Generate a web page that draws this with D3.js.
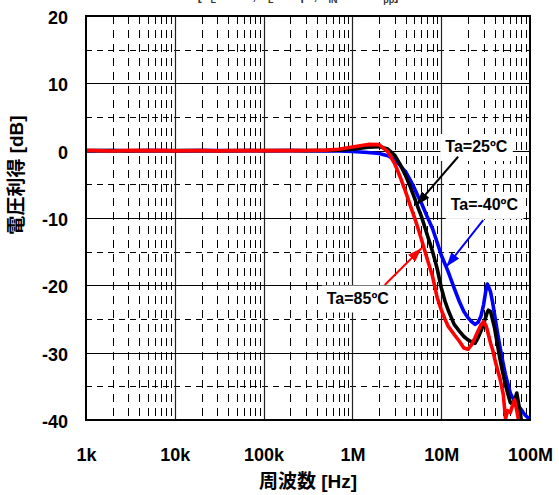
<!DOCTYPE html>
<html>
<head>
<meta charset="utf-8">
<script src="https://cdn.jsdelivr.net/npm/d3@7"></script>
<style>
  body { margin: 0; background: #fff; }
  svg { display: block; }
</style>
</head>
<body>
<svg id="chart" width="559" height="495"></svg>
<script>
// Frequency points (Hz) shared by the three temperature traces
const freqHz = [1e3, 2e3, 3e3, 5e3, 7e3, 1e4, 2e4, 3e4, 5e4, 7e4, 1e5, 2e5, 3e5, 5e5, 7e5,
  1e6, 1.5e6, 2e6, 2.5e6, 3e6, 3.5e6, 4e6, 4.5e6, 5e6, 5.5e6,
  6e6, 7e6, 8e6, 9e6, 10e6, 11e6, 12e6,
  14e6, 16e6, 18e6, 20e6, 22e6, 24e6, 26e6, 28e6, 30e6,
  32e6, 33e6, 34e6, 36e6, 38e6, 40e6,
  43e6, 46e6, 50e6, 53e6, 56e6, 60e6,
  63e6, 67e6, 71e6, 75e6, 80e6, 85e6, 90e6, 100e6];

// Voltage gain (dB) at Ta = -40 ºC
const gainM40 = [-0.03, 0.02, -0.02, 0, 0.02, -0.03, 0, 0.02, -0.02, 0, -0.02, 0, -0.02, -0.03, -0.06,
  -0.12, -0.28, -0.42, -0.75, -1.3, -2.3, -3.2, -4.4, -5.6, -6.8,
  -7.8, -9.9, -11.6, -13.6, -15.5, -16.8, -18.0,
  -20.4, -22.4, -23.9, -24.8, -25.4, -25.8, -25.5, -24.6, -22.9,
  -20.6, -19.8, -20.1, -21.0, -22.6, -24.4,
  -27.0, -29.2, -31.7, -33.3, -34.5, -36.0,
  -36.6, -37.0, -37.3, -38.0, -38.5, -39.0, -39.4, -39.9];

// Voltage gain (dB) at Ta = 25 ºC
const gain25 = [0, 0.03, -0.03, 0.02, -0.02, 0, 0.03, -0.02, 0, 0.02, 0, 0.02, 0, 0.03, 0.08,
  0.22, 0.5, 0.6, 0.25, -0.7, -2.2, -3.8, -5.4, -7.0, -8.5,
  -9.8, -12.6, -15.0, -17.5, -20.3, -22.3, -23.7,
  -25.8, -26.8, -27.6, -28.1, -28.4, -28.6, -27.8, -26.8, -25.7,
  -24.6, -24.0, -23.7, -23.9, -25.2, -26.4,
  -28.8, -31.0, -33.3, -34.8, -36.0, -37.4,
  -37.6, -37.0, -36.0, -37.8, -40.0, -41.5, -42.5, -43.5];

// Voltage gain (dB) at Ta = 85 ºC
const gain85 = [0.05, -0.05, 0.05, 0, 0.05, -0.03, 0.03, -0.03, 0.03, 0, 0.03, 0, 0.02, 0.08, 0.2,
  0.53, 0.93, 0.9, -0.15, -1.95, -4.1, -6.2, -8.2, -9.9, -11.6,
  -13.2, -16.2, -18.7, -21.8, -23.6, -25.0, -26.1,
  -27.3, -28.3, -29.3, -29.5, -28.8, -27.8, -26.8, -25.9, -25.4,
  -26.0, -26.6, -27.3, -28.6, -29.6, -30.9,
  -32.5, -33.9, -36.2, -39.8, -38.6, -38.9,
  -38.0, -37.0, -38.6, -40.3, -41.5, -42.5, -43, -44];

// Axis ticks and labels
const xTicks = [1e3, 1e4, 1e5, 1e6, 1e7, 1e8];
const xTickLabels = ["1k", "10k", "100k", "1M", "10M", "100M"];
const yTicks = [20, 10, 0, -10, -20, -30, -40];
const yMinorTicks = [15, 5, -5, -15, -25, -35];

// Traces and their call-outs: label anchor (Hz, dB), arrow tail and tip (Hz, dB)
const series = [
  { name: "Ta=-40ºC", color: "#0000ff", gain: gainM40 },
  { name: "Ta=25ºC", color: "#000000", gain: gain25 },
  { name: "Ta=85ºC", color: "#ff0000", gain: gain85 }
];
const callouts = [
  { text: "Ta=25ºC", color: "#000000", at: [24.9e6, -0.2], from: [15.5e6, -0.9], to: [5.26e6, -8.1] },
  { text: "Ta=-40ºC", color: "#0000ff", at: [30.6e6, -8.8], from: [29.7e6, -10.3], to: [11.5e6, -17.2] },
  { text: "Ta=85ºC", color: "#ff0000", at: [1.15e6, -22.7], from: [2.31e6, -19.95], to: [6.0e6, -14.5] }
];

const W = 559, H = 495;
const margin = { top: 16, right: 29, bottom: 75, left: 86 };
const font = "'Liberation Sans', Arial, 'Noto Sans CJK JP', sans-serif";

const svg = d3.select("#chart");
const x = d3.scaleLog().domain([1e3, 1e8]).range([margin.left, W - margin.right]);
const y = d3.scaleLinear().domain([-40, 20]).range([H - margin.bottom, margin.top]);
const [x0, x1] = x.range();
const [y0, y1] = [y(20), y(-40)];
const snap = v => Math.round(v) + 0.5;   // crisp 1px grid lines

// Measurement-condition line above the plot (mostly outside the page)
const cond = svg.append("text")
  .attr("x", 298).attr("y", 0)
  .attr("text-anchor", "middle")
  .attr("font-family", font).attr("font-size", 12).attr("font-weight", "bold")
  .attr("fill", "#333");
[["[R", 0], ["L", 1], ["=10kΩ, C", 0], ["L", 1], ["=100pF, V", 0], ["IN", 1], ["=100mV", 0], ["pp", 1], ["]", 0]]
  .forEach(([t, sub]) => {
    cond.append("tspan")
      .attr("font-size", sub ? 9 : 12)
      .attr("baseline-shift", sub ? "-3" : null)
      .text(t);
  });

// Grid
const grid = svg.append("g");
const minorFreqs = [];
for (let d = 1e3; d < 1e8; d *= 10) for (let k = 2; k <= 9; k++) minorFreqs.push(d * k);

grid.selectAll(".vminor").data(minorFreqs).join("line")
  .attr("x1", d => snap(x(d))).attr("x2", d => snap(x(d)))
  .attr("y1", y0).attr("y2", y1)
  .attr("stroke", "#000").attr("stroke-width", 1)
  .attr("stroke-dasharray", "8,6");

grid.selectAll(".hminor").data(yMinorTicks).join("line")
  .attr("x1", x0).attr("x2", x1)
  .attr("y1", d => snap(y(d))).attr("y2", d => snap(y(d)))
  .attr("stroke", "#000").attr("stroke-width", 1)
  .attr("stroke-dasharray", "6,5");

grid.selectAll(".vmajor").data(xTicks.slice(1, -1)).join("line")
  .attr("x1", d => snap(x(d))).attr("x2", d => snap(x(d)))
  .attr("y1", y0).attr("y2", y1)
  .attr("stroke", "#222").attr("stroke-width", 1.2);

grid.selectAll(".hmajor").data(yTicks.slice(1, -1)).join("line")
  .attr("x1", x0).attr("x2", x1)
  .attr("y1", d => snap(y(d))).attr("y2", d => snap(y(d)))
  .attr("stroke", "#000").attr("stroke-width", 1);

// Traces
svg.append("clipPath").attr("id", "plot-clip")
  .append("rect").attr("x", x0).attr("y", y0).attr("width", x1 - x0).attr("height", y1 - y0);

const line = d3.line()
  .x((d, i) => x(freqHz[i]))
  .y(d => y(d));

svg.append("g").attr("clip-path", "url(#plot-clip)")
  .selectAll("path").data(series).join("path")
  .attr("d", s => line(s.gain))
  .attr("fill", "none")
  .attr("stroke", s => s.color)
  .attr("stroke-width", 3.6)
  .attr("stroke-linejoin", "round")
  .attr("stroke-linecap", "round");

// Frame
svg.append("rect")
  .attr("x", x0).attr("y", y0).attr("width", x1 - x0).attr("height", y1 - y0)
  .attr("fill", "none").attr("stroke", "#000").attr("stroke-width", 2);

// Call-outs: white label box, text and arrow
const defs = svg.append("defs");
callouts.forEach((c, i) => {
  defs.append("marker")
    .attr("id", "arrow" + i)
    .attr("viewBox", "0 0 14 10")
    .attr("refX", 14).attr("refY", 5)
    .attr("markerWidth", 14).attr("markerHeight", 10)
    .attr("markerUnits", "userSpaceOnUse")
    .attr("orient", "auto")
    .append("path").attr("d", "M0,0 L14,5 L0,10 Z").attr("fill", c.color);
});

const cg = svg.append("g");
callouts.forEach((c, i) => {
  const g = cg.append("g");
  const box = g.append("rect").attr("fill", "#fff");
  const t = g.append("text")
    .attr("x", x(c.at[0])).attr("y", y(c.at[1]))
    .attr("text-anchor", "middle")
    .attr("font-family", font).attr("font-size", 16).attr("font-weight", "bold")
    .attr("fill", "#000")
    .text(c.text);
  const bb = t.node().getBBox();
  const base = y(c.at[1]);
  box.attr("x", bb.x - 5).attr("width", bb.width + 10)
    .attr("y", base - 18).attr("height", 27);
  g.append("line")
    .attr("x1", x(c.from[0])).attr("y1", y(c.from[1]))
    .attr("x2", x(c.to[0])).attr("y2", y(c.to[1]))
    .attr("stroke", c.color).attr("stroke-width", 2)
    .attr("marker-end", `url(#arrow${i})`);
});

// Axes
const xAxis = svg.append("g")
  .attr("transform", `translate(0,${y1})`)
  .call(d3.axisBottom(x).tickValues(xTicks).tickFormat((d, i) => xTickLabels[i]).tickSize(0).tickPadding(28));
xAxis.select(".domain").remove();
xAxis.selectAll("text")
  .attr("font-family", font).attr("font-size", 18).attr("font-weight", "bold").attr("fill", "#000");

const yAxis = svg.append("g")
  .attr("transform", `translate(${x0},0)`)
  .call(d3.axisLeft(y).tickValues(yTicks).tickFormat(d => String(d)).tickSize(0).tickPadding(18));
yAxis.select(".domain").remove();
yAxis.selectAll("text")
  .attr("dy", "0.42em")
  .attr("font-family", font).attr("font-size", 18).attr("font-weight", "bold").attr("fill", "#000");

// Axis titles
svg.append("text")
  .attr("x", (x0 + x1) / 2).attr("y", 488)
  .attr("text-anchor", "middle")
  .attr("font-family", font).attr("font-size", 19).attr("font-weight", "bold")
  .text("周波数 [Hz]");

svg.append("text")
  .attr("transform", "translate(23,175) rotate(-90)")
  .attr("text-anchor", "middle")
  .attr("font-family", font).attr("font-size", 19).attr("font-weight", "bold")
  .text("電圧利得 [dB]");
</script>
</body>
</html>
